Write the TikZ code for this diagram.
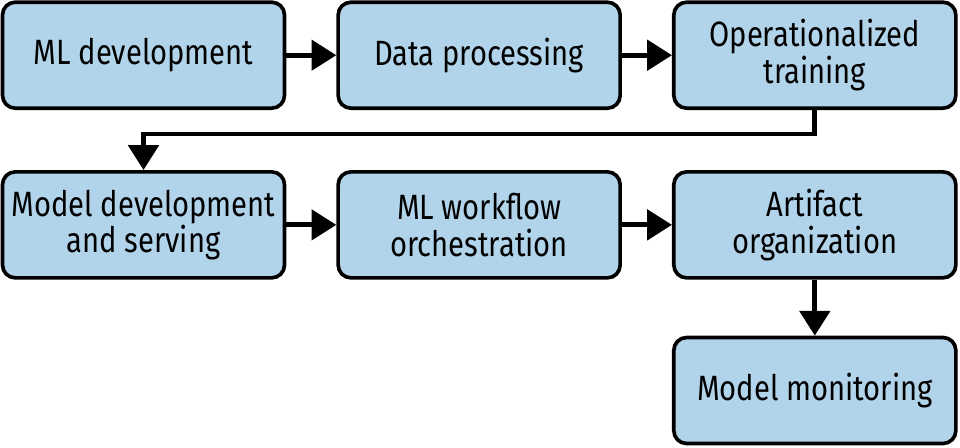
\documentclass[tikz,border=0pt]{standalone}
\usepackage{fontspec}
\setmainfont{Fira Sans}[FakeStretch=0.83]
\usepackage{xcolor}
\usepackage{tikz}
\usetikzlibrary{positioning,arrows.meta}
\definecolor{boxblue}{HTML}{B2D4EA}

\begin{document}
\begin{tikzpicture}[
  box/.style={draw, line width=2.6pt, rounded corners=0.32cm, fill=boxblue,
    minimum width=7.05cm, minimum height=2.65cm, align=center,
    font=\fontsize{25}{26}\selectfont},
  conn/.style={line width=3.4pt, -{Triangle[length=0.62cm,width=0.75cm]}},
  node distance=1.25cm]
			\useasboundingbox (0,0) rectangle (24,-11.175);
			% row 1
			\node[box] (mldev) at (3.5875,-1.38) {ML development};
			\node[box, right=of mldev] (data) {Data processing};
			\node[box, right=of data] (train) {Operationalized\\training};
			% row 2
			\node[box, below=1.5cm of mldev] (serve) {Model development\\and serving};
			\node[box, right=of serve] (flow) {ML workflow\\orchestration};
			\node[box, right=of flow] (artifact) {Artifact\\organization};
			% row 3
			\node[box, below=1.4cm of artifact] (monitor) {Model monitoring};
			% arrows
			\draw[conn] (mldev) -- (data);
			\draw[conn] (data) -- (train);
			\draw[conn] (train.south) -- ++(0,-0.6) -| (serve.north);
			\draw[conn] (serve) -- (flow);
			\draw[conn] (flow) -- (artifact);
			\draw[conn] (artifact) -- (monitor);
		\end{tikzpicture}
\end{document}
